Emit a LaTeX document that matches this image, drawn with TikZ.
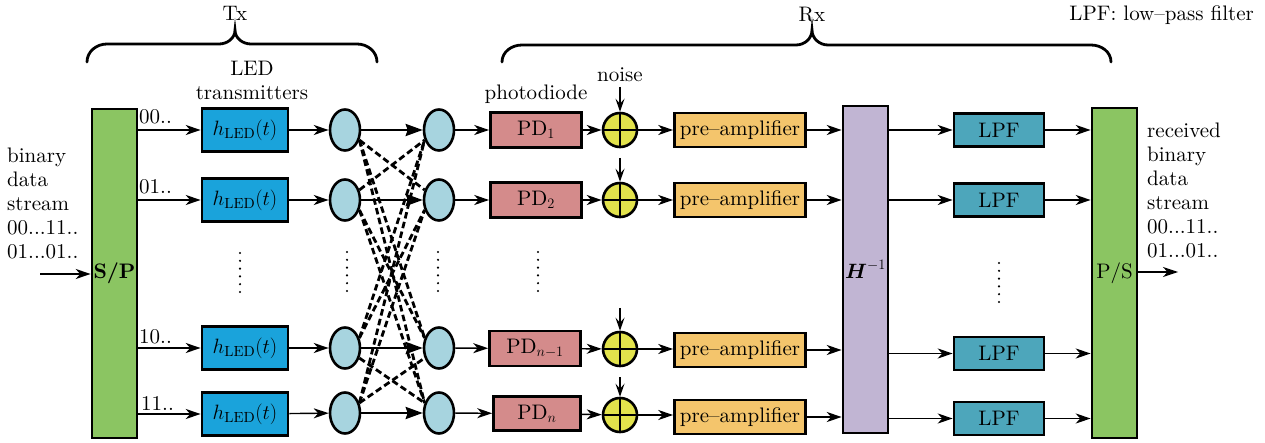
\documentclass[tikz,border=0pt]{standalone}
\usepackage{amsmath}
\usepackage{fontspec}
\setmainfont{lmroman10-regular.otf}[BoldFont=lmroman10-bold.otf, ItalicFont=lmroman10-italic.otf, BoldItalicFont=lmroman10-bolditalic.otf]
\usetikzlibrary{arrows.meta,shapes.geometric}
\definecolor{spgreen}{HTML}{8BC562}
\definecolor{ledblue}{HTML}{1AA3DB}
\definecolor{ellblue}{HTML}{A7D4DF}
\definecolor{pdpink}{HTML}{D48B8B}
\definecolor{addyellow}{HTML}{E3E34C}
\definecolor{preorange}{HTML}{F4C56C}
\definecolor{hlav}{HTML}{C1B5D3}
\definecolor{lpfteal}{HTML}{4DA6BB}
\tikzset{
  every node/.style={font=\fontsize{21}{24}\selectfont, inner sep=0pt},
  box/.style={draw, line width=2.6pt, rectangle},
  ell/.style={draw, ellipse, line width=2.6pt, fill=ellblue, minimum width=30, minimum height=41},
  adder/.style={draw, circle, line width=2.6pt, fill=addyellow, minimum size=34},
  arr/.style={line width=1.4pt, -{Stealth[length=15pt,width=10pt,inset=4.5pt]}},
  narr/.style={line width=1.4pt, -{Stealth[length=13pt,width=9pt,inset=5pt]}},
  bigarr/.style={line width=2.6pt, -{Stealth[length=17pt,width=12pt,inset=2pt]}},
  xdash/.style={line width=2.8pt, dash pattern=on 6.5pt off 3.5pt},
  dotline/.style={line width=2.4pt, line cap=round, dash pattern=on 0pt off 7.8pt},
  bracestyle/.style={line width=2.8pt, line cap=round},
}
\begin{document}
\begin{tikzpicture}[x=1pt,y=1pt]
\useasboundingbox (0,0) rectangle (1265,-443);
\fill[white] (0,0) rectangle (1265,-443);

% top labels and braces
\node[anchor=base] (tx) at (235,-21) {Tx};
\node[anchor=base] (rx) at (812,-22) {Rx};
\node[anchor=base east] (lpfnote) at (1254,-21) {LPF: low--pass filter};
\draw[bracestyle] (87,-62) to[out=90,in=180] (107,-44) -- (219,-44) to[out=0,in=-90] (235,-30)
  to[out=-90,in=180] (251,-44) -- (357,-44) to[out=0,in=90] (377,-62);
\draw[bracestyle] (502,-62) to[out=90,in=180] (522,-45) -- (796,-45) to[out=0,in=-90] (812,-30)
  to[out=-90,in=180] (828,-45) -- (1091,-45) to[out=0,in=90] (1111,-62);

% left text and S/P
\node[anchor=north west, align=left] (intext) at (7,-148) {binary\\data\\stream\\00...11..\\01...01..};
\node[box, fill=spgreen, minimum width=45, minimum height=329] (sp) at (114.5,-273.5) {\textbf{S/P}};
\coordinate (in) at (40,-274);
\draw[arr] (in) -- (in -| sp.west);

\node[anchor=base] (ledlab) at (252,-76) {LED};
\node[anchor=base] (trlab) at (252,-100) {transmitters};

% LED blocks
\node[box, fill=ledblue, minimum width=86, minimum height=43] (h1) at (245,-130) {$h_{\mathrm{LED}}(t)$};
\node[box, fill=ledblue, minimum width=86, minimum height=43] (h2) at (245,-200) {$h_{\mathrm{LED}}(t)$};
\node[box, fill=ledblue, minimum width=86, minimum height=43] (h3) at (245,-348) {$h_{\mathrm{LED}}(t)$};
\node[box, fill=ledblue, minimum width=86, minimum height=43] (h4) at (245,-414) {$h_{\mathrm{LED}}(t)$};
\draw[arr] (sp.east |- h1) -- (h1);
\draw[arr] (sp.east |- h2) -- (h2);
\draw[arr] (sp.east |- h3) -- (h3);
\draw[arr] (sp.east |- h4) -- (h4);
\node[anchor=base west] (l00) at (139,-124) {00..};
\node[anchor=base west] (l01) at (139,-194) {01..};
\node[anchor=base west] (l10) at (139,-343) {10..};
\node[anchor=base west] (l11) at (141,-410) {11..};

% tx ellipses
\node[ell] (t1) at (345,-130) {};
\node[ell] (t2) at (345,-200) {};
\node[ell] (t3) at (345,-348) {};
\node[ell] (t4) at (345,-413) {};
\draw[arr] (h1) -- (t1);
\draw[arr] (h2) -- (t2);
\draw[arr] (h3) -- (t3);
\draw[arr] (h4) -- (t4);

% rx ellipses
\node[ell] (r1) at (439,-130) {};
\node[ell] (r2) at (439,-200) {};
\node[ell] (r3) at (439,-348) {};
\node[ell] (r4) at (439,-413) {};

% crossing dashed paths
\foreach \i in {1,...,4}{
  \foreach \j in {1,...,4}{
    \ifnum\i<\j
      \draw[xdash] (t\i.-35) -- (r\j.145);
    \fi
    \ifnum\i>\j
      \draw[xdash] (t\i.35) -- (r\j.-145);
    \fi
  }
}
\draw[bigarr] (t1) -- (r1);
\draw[bigarr] (t2) -- (r2);
\draw[bigarr] (t3) -- (r3);
\draw[bigarr] (t4) -- (r4);

% photodiodes
\node[anchor=base] (pdlab) at (536,-100) {photodiode};
\node[box, fill=pdpink, minimum width=91, minimum height=35] (pd1) at (536,-130) {PD$_1$};
\node[box, fill=pdpink, minimum width=91, minimum height=35] (pd2) at (536,-200) {PD$_2$};
\node[box, fill=pdpink, minimum width=91, minimum height=35] (pd3) at (535,-348.5) {PD$_{n-1}$};
\node[box, fill=pdpink, minimum width=87, minimum height=34] (pd4) at (537,-413.5) {PD$_{n}$};
\draw[arr] (r1) -- (pd1);
\draw[arr] (r2) -- (pd2);
\draw[arr] (r3) -- (pd3);
\draw[arr] (r4) -- (pd4);

% adders
\node[anchor=base] (noiselab) at (620,-82) {noise};
\foreach \k/\y/\ny in {1/130/87, 2/200/158, 3/349/308, 4/415/377}{
  \node[adder] (a\k) at (620,-\y) {};
  \draw[line width=2.2pt] (a\k.north) -- (a\k.south) (a\k.west) -- (a\k.east);
  \coordinate (n\k) at (620,-\ny);
  \draw[narr] (n\k) -- (a\k.north);
  \draw[arr] (pd\k) -- (a\k);
}

% pre-amplifiers
\node[box, fill=preorange, minimum width=131, minimum height=34] (p1) at (740,-130) {pre--amplifier};
\node[box, fill=preorange, minimum width=131, minimum height=34] (p2) at (740,-200) {pre--amplifier};
\node[box, fill=preorange, minimum width=131, minimum height=34] (p3) at (740,-350) {pre--amplifier};
\node[box, fill=preorange, minimum width=131, minimum height=34] (p4) at (740,-417) {pre--amplifier};
\draw[arr] (a1) -- (p1);
\draw[arr] (a2) -- (p2);
\draw[arr] (a3) -- (a3 -| p3.west);
\draw[arr] (a4) -- (a4 -| p4.west);

% H^-1
\node[box, fill=hlav, minimum width=45, minimum height=327] (H) at (865.5,-269.5) {$\boldsymbol{H}^{-1}$};
\draw[arr] (p1) -- (p1 -| H.west);
\draw[arr] (p2) -- (p2 -| H.west);
\draw[arr] (p3) -- (p3 -| H.west);
\draw[arr] (p4) -- (p4 -| H.west);

% LPFs
\node[box, fill=lpfteal, minimum width=90, minimum height=33] (f1) at (999,-130) {LPF};
\node[box, fill=lpfteal, minimum width=90, minimum height=33] (f2) at (999,-200) {LPF};
\node[box, fill=lpfteal, minimum width=90, minimum height=33] (f3) at (999,-353.5) {LPF};
\node[box, fill=lpfteal, minimum width=90, minimum height=33] (f4) at (999,-418.5) {LPF};
\draw[arr] (H.east |- f1) -- (f1);
\draw[arr] (H.east |- f2) -- (f2);
\draw[arr] (H.east |- f3) -- (f3);
\draw[arr] (H.east |- f4) -- (f4);

% P/S
\node[box, fill=spgreen, minimum width=45, minimum height=330] (ps) at (1114.5,-273) {P/S};
\draw[arr] (f1) -- (f1 -| ps.west);
\draw[arr] (f2) -- (f2 -| ps.west);
\draw[arr] (f3) -- (f3 -| ps.west);
\draw[arr] (f4) -- (f4 -| ps.west);
\coordinate (out) at (1178,-272);
\draw[arr] (ps.east |- out) -- (out);
\node[anchor=north west, align=left] (outtext) at (1147,-123) {received\\binary\\data\\stream\\00...11..\\01...01..};

% dots
\draw[dotline] (240,-253) -- (240,-293);
\draw[dotline] (347,-252) -- (347,-292);
\draw[dotline] (438,-252) -- (438,-292);
\draw[dotline] (538,-252) -- (538,-292);
\draw[dotline] (999,-263) -- (999,-303);
\end{tikzpicture}
\end{document}
